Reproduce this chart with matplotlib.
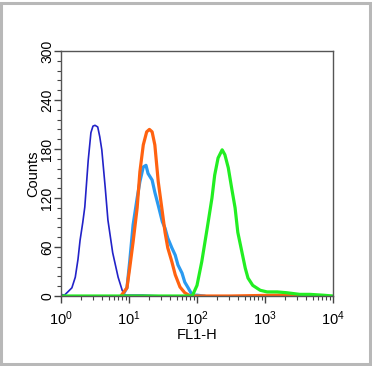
import numpy as np
import matplotlib
matplotlib.use('Agg')
import matplotlib.pyplot as plt
from matplotlib.patches import Rectangle
from matplotlib.ticker import MultipleLocator, LogLocator, NullFormatter

plt.rcParams['font.family'] = ['Liberation Sans', 'DejaVu Sans']

# histogram outlines: log10(FL1-H) and counts
blue_log = [0.0, 0.05, 0.10, 0.16, 0.21, 0.25, 0.28, 0.32, 0.35, 0.40, 0.44, 0.47,
            0.50, 0.54, 0.57, 0.60, 0.65, 0.69, 0.76, 0.84, 0.90, 0.94, 1.2, 1.5]
blue_cnt = [2, 1, 5, 10, 23, 45, 68, 90, 109, 166, 200, 208,
            209, 207, 195, 179, 133, 93, 53, 23, 7, 1, 1, 0]

lblue_log = [0.90, 0.97, 1.01, 1.06, 1.12, 1.16, 1.21, 1.25, 1.28, 1.34, 1.38, 1.43,
             1.49, 1.53, 1.57, 1.63, 1.68, 1.72, 1.78, 1.82, 1.87, 1.93, 2.0, 2.1]
lblue_cnt = [0, 10, 42, 87, 120, 140, 158, 160, 150, 142, 127, 111,
             91, 83, 71, 59, 50, 38, 28, 17, 10, 1, 1, 0]

orange_log = [0.88, 0.97, 1.01, 1.06, 1.12, 1.16, 1.21, 1.26, 1.30, 1.34, 1.38, 1.43,
              1.49, 1.53, 1.57, 1.63, 1.68, 1.75, 1.82, 1.90, 2.5, 3.2, 3.5]
orange_cnt = [0, 10, 34, 66, 108, 152, 185, 201, 204, 201, 185, 140,
              103, 78, 59, 42, 26, 11, 4, 0, 0, 1, 0]

green_log = [0.0, 1.0, 1.93, 2.00, 2.07, 2.15, 2.22, 2.26, 2.31, 2.37, 2.41, 2.46,
             2.51, 2.56, 2.60, 2.66, 2.71, 2.75, 2.82, 2.93, 3.03, 3.18, 3.32, 3.51,
             3.66, 3.85, 4.0]
green_cnt = [0, 0, 0, 13, 42, 83, 120, 148, 169, 179, 173, 157,
             132, 108, 78, 54, 34, 22, 13, 7, 5, 5, 4, 2,
             2, 1, 0]

fig = plt.figure(figsize=(3.72, 3.66), dpi=100)
fig.patches.append(Rectangle((0.004, 0.005), 0.99, 0.988, transform=fig.transFigure,
                             fill=False, edgecolor='#b8b8b8', linewidth=2.2))
ax = fig.add_axes([61 / 372, 1 - 296 / 366, 272 / 372, 245 / 366])

ax.plot(10 ** np.array(blue_log), blue_cnt, color='#2222c8', linewidth=1.2)
ax.plot(10 ** np.array(lblue_log), lblue_cnt, color='#2a9af0', linewidth=2.3)
ax.plot(10 ** np.array(orange_log), orange_cnt, color='#ff6210', linewidth=2.3)
ax.plot(10 ** np.array(green_log), green_cnt, color='#22ee22', linewidth=2.3)

ax.set_xscale('log')
ax.set_xlim(1, 1e4)
ax.set_ylim(0, 300)
ax.xaxis.set_major_locator(LogLocator(base=10, numticks=10))
ax.xaxis.set_minor_locator(LogLocator(base=10, subs=np.arange(2, 10), numticks=20))
ax.xaxis.set_minor_formatter(NullFormatter())
ax.yaxis.set_major_locator(MultipleLocator(60))
ax.yaxis.set_minor_locator(MultipleLocator(12))

for s in ax.spines.values():
    s.set_color('#555555')
    s.set_linewidth(1.0)

ax.tick_params(which='major', direction='out', length=5, width=1, color='#444444',
               labelsize=10.5)
ax.tick_params(which='minor', direction='out', length=3, width=0.8, color='#444444')
ax.tick_params(axis='y', which='major', labelrotation=90, pad=0, labelsize=10)
ax.tick_params(axis='x', which='major', pad=5)
for lab in ax.get_yticklabels():
    lab.set_va('center')

ax.set_ylabel('Counts', fontsize=10.5, labelpad=0)
ax.set_xlabel('FL1-H', fontsize=10.5, labelpad=0)

fig.savefig('out.png', dpi=100)
